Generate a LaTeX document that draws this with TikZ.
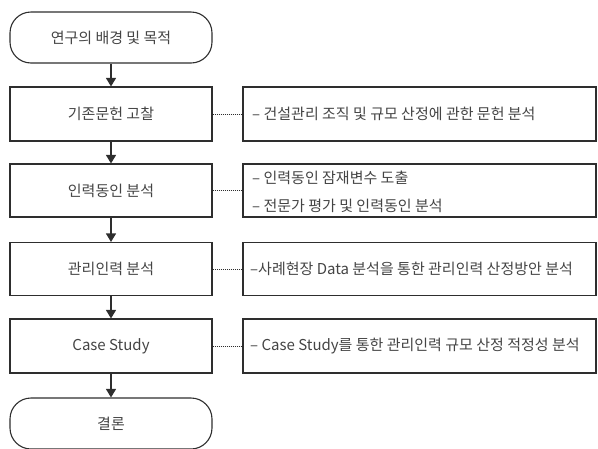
\documentclass[tikz,border=0pt]{standalone}
\usepackage{fontspec}
\setmainfont{Noto Sans CJK KR}
\usetikzlibrary{arrows.meta}
\definecolor{ln}{HTML}{2E2E2E}
\definecolor{tx}{HTML}{444444}
\begin{document}
\begin{tikzpicture}[x=1pt,y=-1pt,
  every node/.style={font=\fontsize{15}{28}\selectfont, text=tx},
  stepbox/.style={draw=ln, line width=1.1pt, minimum width=202pt, inner sep=0pt},
  termbox/.style={draw=ln, line width=1.1pt, minimum width=202pt, minimum height=51pt, rounded corners=21pt, inner sep=0pt},
  notebox/.style={draw=ln, line width=1.1pt, minimum width=353pt, inner sep=0pt},
  notetext/.style={anchor=west, align=left, inner sep=0pt},
  flow/.style={draw=ln, line width=1.1pt, -{Triangle[length=8.5pt,width=10pt]}},
  link/.style={draw=ln, line width=0.9pt, dash pattern=on 1pt off 1pt}
]
\useasboundingbox (0,0) rectangle (598,448);

\node[termbox] (t1) at (111,37.5) {연구의 배경 및 목적};
\node[stepbox, minimum height=54pt] (b1) at (111,114) {기존문헌 고찰};
\node[stepbox, minimum height=53pt] (b2) at (111,190.5) {인력동인 분석};
\node[stepbox, minimum height=53pt] (b3) at (111,269) {관리인력 분석};
\node[stepbox, minimum height=54pt] (b4) at (111,346) {Case Study};
\node[termbox] (t2) at (111,423.5) {결론};

\node[notebox, minimum height=54pt] (r1) at (419.5,114) {};
\node[notebox, minimum height=53pt] (r2) at (419.5,190.5) {};
\node[notebox, minimum height=53pt] (r3) at (419.5,269) {};
\node[notebox, minimum height=54pt] (r4) at (419.5,346) {};

\node[notetext] (n1) at (252,114) {– 건설관리 조직 및 규모 산정에 관한 문헌 분석};
\node[notetext] (n2) at (252,191.5) {– 인력동인 잠재변수 도출\\– 전문가 평가 및 인력동인 분석};
\node[notetext] (n3) at (250,269) {–사례현장 Data 분석을 통한 관리인력 산정방안 분석};
\node[notetext] (n4) at (250,346) {– Case Study를 통한 관리인력 규모 산정 적정성 분석};

\draw[flow] (t1) -- (b1);
\draw[flow] (b1) -- (b2);
\draw[flow] (b2) -- (b3);
\draw[flow] (b3) -- (b4);
\draw[flow] (b4) -- (t2);

\draw[link] (b1) -- (r1);
\draw[link] (b2) -- (r2);
\draw[link] (b3) -- (r3);
\draw[link] (b4) -- (r4);
\end{tikzpicture}
\end{document}
